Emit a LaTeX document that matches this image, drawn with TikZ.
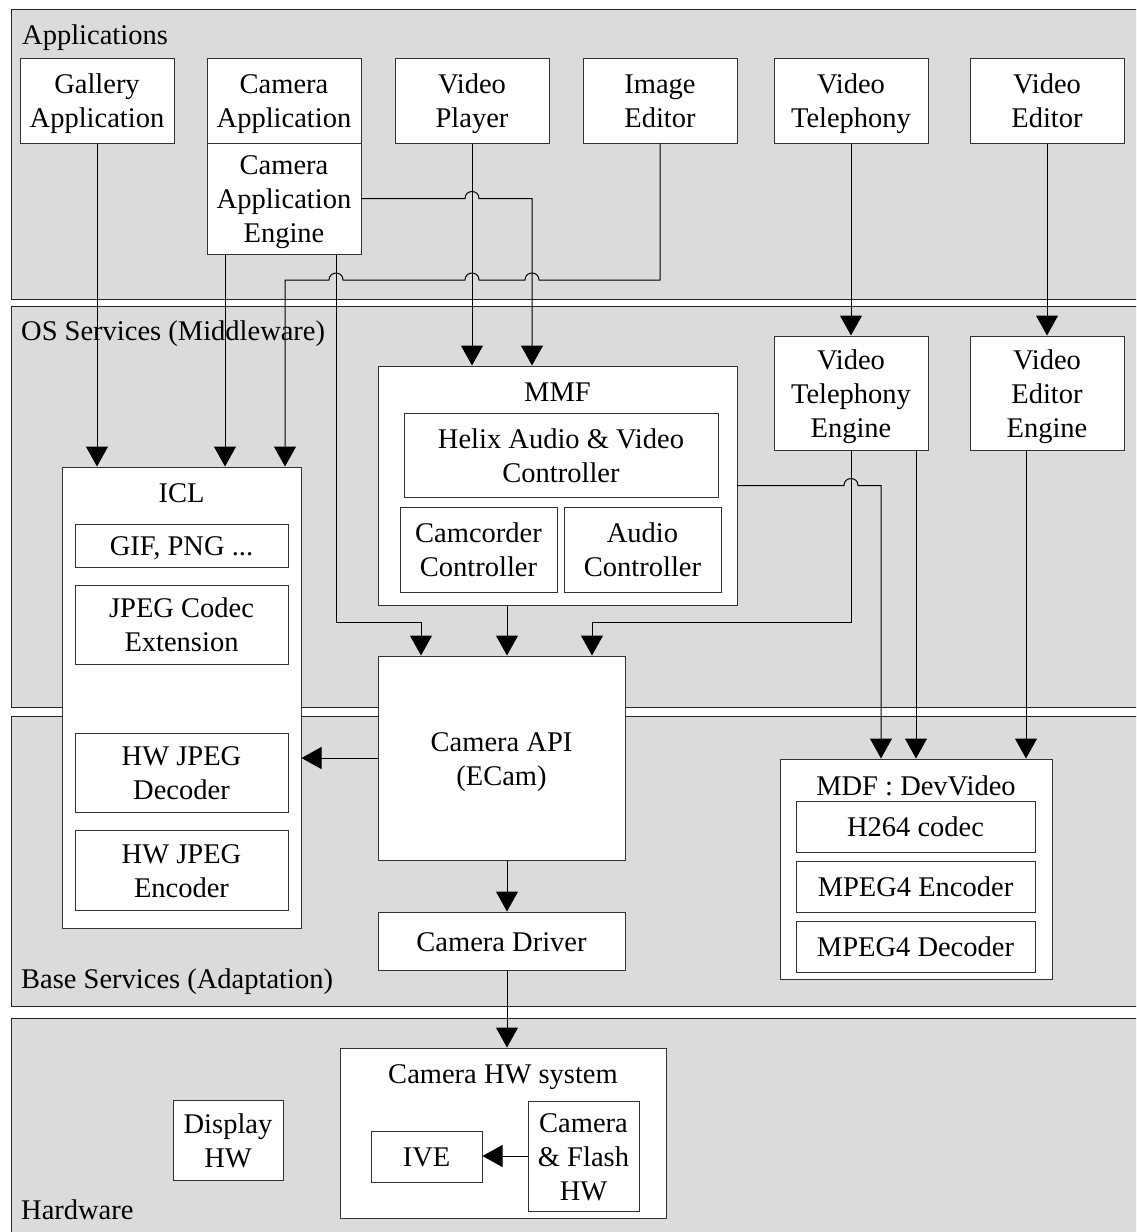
\documentclass[tikz,border=0pt]{standalone}
\usepackage{fontspec}
\setmainfont{Liberation Serif}
\usetikzlibrary{arrows.meta}
\newcommand{\tstrut}{\rule[-7pt]{0pt}{34pt}}

\begin{document}
\begin{tikzpicture}
    [
    x=1pt, y=-1pt,
    font=\fontsize{28.5}{34}\selectfont,
    layer/.style={draw=black!85, line width=1pt, fill=black!14},
    box/.style={draw=black!80, line width=1pt, fill=white, align=center, inner sep=0pt},
    wh/.style 2 args={minimum width=#1pt, minimum height=#2pt},
    ttl/.style={label={[anchor=north, inner sep=0pt, yshift=-17pt]north:#1}},
    layername/.style={anchor=base west, inner sep=0pt},
    arr/.style={-{Triangle[length=20pt,width=22pt]}, line width=1pt}
    ]
    \clip (0,0) rectangle (1136,1232);

    % layers
    \draw [layer] (11,9) rectangle (1145,299);
    \draw [layer] (11,306) rectangle (1145,707);
    \draw [layer] (11,716) rectangle (1145,1006);
    \draw [layer] (11,1018) rectangle (1145,1245);
    \node (tapp) [layername] at (22,44) {Applications};
    \node (tos) [layername] at (21,340) {OS Services (Middleware)};
    \node (tbase) [layername] at (21,988) {Base Services (Adaptation)};
    \node (thw) [layername] at (21,1219) {Hardware};

    % applications
    \node (gal) at (97,100.5) [box, wh={154}{85}] {\tstrut Gallery\\Application\tstrut};
    \node (cap) at (284,100.5) [box, wh={154}{85}] {\tstrut Camera\\Application\tstrut};
    \node (eng) at (284,198.5) [box, wh={154}{111}] {\tstrut Camera\\Application\\Engine\tstrut};
    \node (vp) at (472,100.5) [box, wh={154}{85}] {\tstrut Video\\Player\tstrut};
    \node (ie) at (660,100.5) [box, wh={154}{85}] {\tstrut Image\\Editor\tstrut};
    \node (vt) at (851,100.5) [box, wh={154}{85}] {\tstrut Video\\Telephony\tstrut};
    \node (ve) at (1047,100.5) [box, wh={154}{85}] {\tstrut Video\\Editor\tstrut};

    % os services
    \node (mmf) at (557.5,485.5) [box, wh={359}{239}, ttl=MMF] {};
    \node (helix) at (561,455) [box, wh={314}{84}] {\tstrut Helix Audio \& Video\\Controller\tstrut};
    \node (cc) at (478.5,549.5) [box, wh={157}{85}] {\tstrut Camcorder\\Controller\tstrut};
    \node (ac) at (642.5,549.5) [box, wh={157}{85}] {\tstrut Audio\\Controller\tstrut};
    \node (vte) at (851,393) [box, wh={154}{114}] {\tstrut Video\\Telephony\\Engine\tstrut};
    \node (vee) at (1047,393) [box, wh={154}{114}] {\tstrut Video\\Editor\\Engine\tstrut};
    \node (icl) at (181.5,697.5) [box, wh={239}{461}, ttl=ICL] {};
    \node (gif) at (181.5,545.5) [box, wh={213}{43}] {\tstrut GIF, PNG ...};
    \node (jpg) at (181.5,624.5) [box, wh={213}{79}] {\tstrut JPEG Codec\\Extension\tstrut};
    \node (dec) at (181.5,772.5) [box, wh={213}{79}] {\tstrut HW JPEG\\Decoder\tstrut};
    \node (enc) at (181.5,870) [box, wh={213}{80}] {\tstrut HW JPEG\\Encoder\tstrut};
    \node (api) at (501.5,758) [box, wh={247}{204}] {\tstrut Camera API\\(ECam)\tstrut};

    % base services
    \node (drv) at (501.5,941) [box, wh={247}{58}] {\tstrut Camera Driver};
    \node (mdf) at (916,869) [box, wh={272}{220}, ttl=MDF : DevVideo] {};
    \node (h264) at (915.5,826.5) [box, wh={239}{51}] {\tstrut H264 codec};
    \node (menc) at (915.5,886.5) [box, wh={239}{51}] {\tstrut MPEG4 Encoder};
    \node (mdec) at (915.5,946.5) [box, wh={239}{51}] {\tstrut MPEG4 Decoder};

    % hardware
    \node (hws) at (503,1133) [box, wh={326}{170}, ttl=Camera HW system] {};
    \node (ive) at (426.5,1156.5) [box, wh={111}{51}] {\tstrut IVE};
    \node (cf) at (583.5,1156) [box, wh={111}{110}] {\tstrut Camera\\\& Flash\\HW\tstrut};
    \node (disp) at (228,1140) [box, wh={110}{80}] {\tstrut Display\\HW\tstrut};

    % connectors
    \draw [arr] (gal) -- (gal |- icl.north);
    \draw [arr] (eng.south -| 225,0) -- (icl.north -| 225,0);
    \draw [arr] (eng.south -| 336,0) -- (336,622) -| (api.north -| 421,0);
    \draw [arr] (eng.east) -- (465,198.5) .. controls (465,189.2) and (479,189.2) .. (479,198.5)
        -- (532,198.5) -- (mmf.north -| 532,0);
    \draw [arr] (vp) -- (vp |- mmf.north);
    \draw [arr] (ie.south) -- (660,280) -- (539,280) .. controls (539,270.7) and (525,270.7) .. (525,280)
        -- (479,280) .. controls (479,270.7) and (465,270.7) .. (465,280)
        -- (343,280) .. controls (343,270.7) and (329,270.7) .. (329,280)
        -- (285,280) -- (icl.north -| 285,0);
    \draw [arr] (vt) -- (vt |- vte.north);
    \draw [arr] (ve) -- (ve |- vee.north);
    \draw [arr] (mmf.south -| 507,0) -- (api.north -| 507,0);
    \draw [arr] (vte.south) -- (851,622) -| (api.north -| 592,0);
    \draw [arr] (vte.south -| 916,0) -- (mdf.north -| 916,0);
    \draw [arr] (mmf.east) -- (844,485.5) .. controls (844,476.2) and (858,476.2) .. (858,485.5)
        -- (881,485.5) -- (mdf.north -| 881,0);
    \draw [arr] (vee.south -| 1026,0) -- (mdf.north -| 1026,0);
    \draw [arr] (api.west) -- (api.west -| icl.east);
    \draw [arr] (api.south -| 507,0) -- (drv.north -| 507,0);
    \draw [arr] (drv.south -| 507,0) -- (hws.north -| 507,0);
    \draw [arr] (cf.west) -- (cf.west -| ive.east);
\end{tikzpicture}
\end{document}
